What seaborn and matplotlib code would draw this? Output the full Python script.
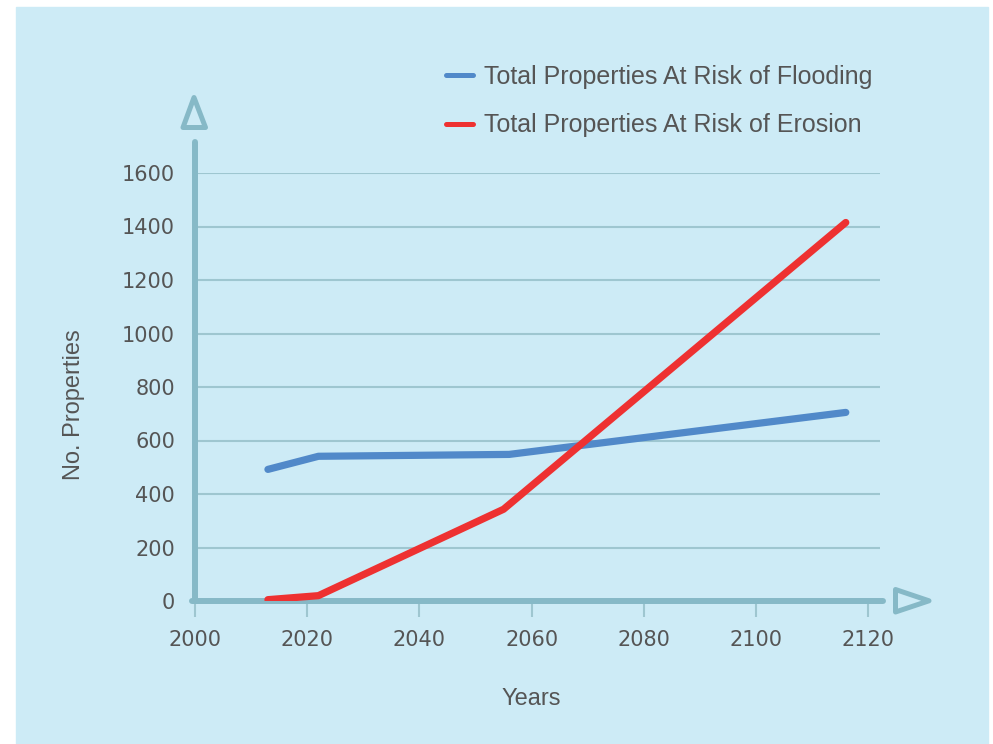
import pandas as pd
import matplotlib.pyplot as plt
import seaborn as sns
from matplotlib.patches import Rectangle, Polygon
from matplotlib.lines import Line2D

# data
years_flooding = [2013, 2022, 2056, 2116]
flooding = [492, 541, 548, 705]
years_erosion = [2013, 2022, 2055, 2116]
erosion = [5, 20, 343, 1415]
series_names = ["Total Properties At Risk of Flooding",
                "Total Properties At Risk of Erosion"]
x_ticks = [2000, 2020, 2040, 2060, 2080, 2100, 2120]
y_ticks = [0, 200, 400, 600, 800, 1000, 1200, 1400, 1600]

BG = "#cdebf6"
AXIS = "#86b9c7"
GRID = "#9ec6d0"
TEXT = "#555555"
BLUE = "#5189c9"
RED = "#ee3131"

W, H = 993, 744


def fx(px):
    return px / W


def fy(py):
    return 1 - py / H


sns.set_style("white")
plt.rcParams["font.family"] = ["Liberation Sans", "DejaVu Sans"]

df = pd.concat([
    pd.DataFrame({"Year": years_flooding, "Properties": flooding, "Series": series_names[0]}),
    pd.DataFrame({"Year": years_erosion, "Properties": erosion, "Series": series_names[1]}),
])

fig = plt.figure(figsize=(9.93, 7.44), dpi=100)
fig.patch.set_facecolor("white")
fig.patches.append(Rectangle((fx(16), 0), fx(988) - fx(16), fy(7),
                             transform=fig.transFigure, color=BG, zorder=-1))

ax = fig.add_axes([fx(195), fy(601), fx(880) - fx(195), fy(173) - fy(601)])
ax.set_facecolor("none")

sns.lineplot(data=df, x="Year", y="Properties", hue="Series",
             palette=[BLUE, RED], linewidth=5.2, solid_capstyle="round",
             legend=False, ax=ax, zorder=3)

ax.set_xlim(2000, 2122.1)
ax.set_ylim(0, 1600)
ax.set_xticks(x_ticks, labels=[str(v) for v in x_ticks], fontfamily="DejaVu Sans")
ax.set_yticks(y_ticks, labels=[str(v) for v in y_ticks], fontfamily="DejaVu Sans")
ax.tick_params(axis="x", bottom=True, length=11.5, width=1.5, color=GRID,
               pad=9.7, labelsize=15, labelcolor=TEXT)
ax.tick_params(axis="y", left=False, length=0, pad=14.4, labelsize=15,
               labelcolor=TEXT)
ax.grid(axis="y", color=GRID, linewidth=1.5)
ax.grid(axis="x", visible=False)
ax.set_axisbelow(True)
for s in ax.spines.values():
    s.set_visible(False)

# thick axis lines with arrow heads
ax.plot([-0.0044, 1.0044], [0, 0], transform=ax.transAxes, color=AXIS,
        lw=4.3, solid_capstyle="round", clip_on=False, zorder=2)
ax.plot([0, 0], [0, (601 - 142) / 428], transform=ax.transAxes, color=AXIS,
        lw=4.3, solid_capstyle="round", clip_on=False, zorder=2)
for pts in ([(194, 97.5), (183, 127.5), (205.5, 127.5)],
            [(895.5, 589.5), (895.5, 612), (929, 600.8)]):
    fig.patches.append(Polygon([(fx(a), fy(b)) for a, b in pts], closed=True,
                               fill=False, ec=AXIS, lw=3.6, joinstyle="round",
                               transform=fig.transFigure, zorder=2))

ax.set_xlabel("Years", fontsize=17, color=TEXT)
ax.xaxis.set_label_coords((531 - 195) / 685, (601 - 688) / 428)
ax.set_ylabel("No. Properties", fontsize=17, color=TEXT)
ax.yaxis.set_label_coords((85 - 195) / 685, (601 - 405) / 428)

handles = [Line2D([], [], color=BLUE, lw=3.6, solid_capstyle="round"),
           Line2D([], [], color=RED, lw=3.6, solid_capstyle="round")]
fig.legend(handles, series_names, loc="upper left",
           bbox_to_anchor=(fx(445.5), fy(65)), frameon=False, fontsize=18,
           handlelength=1.1, handletextpad=0.45, labelspacing=0.97,
           borderpad=0, borderaxespad=0, labelcolor=TEXT)

fig.savefig("out.png", dpi=100)
